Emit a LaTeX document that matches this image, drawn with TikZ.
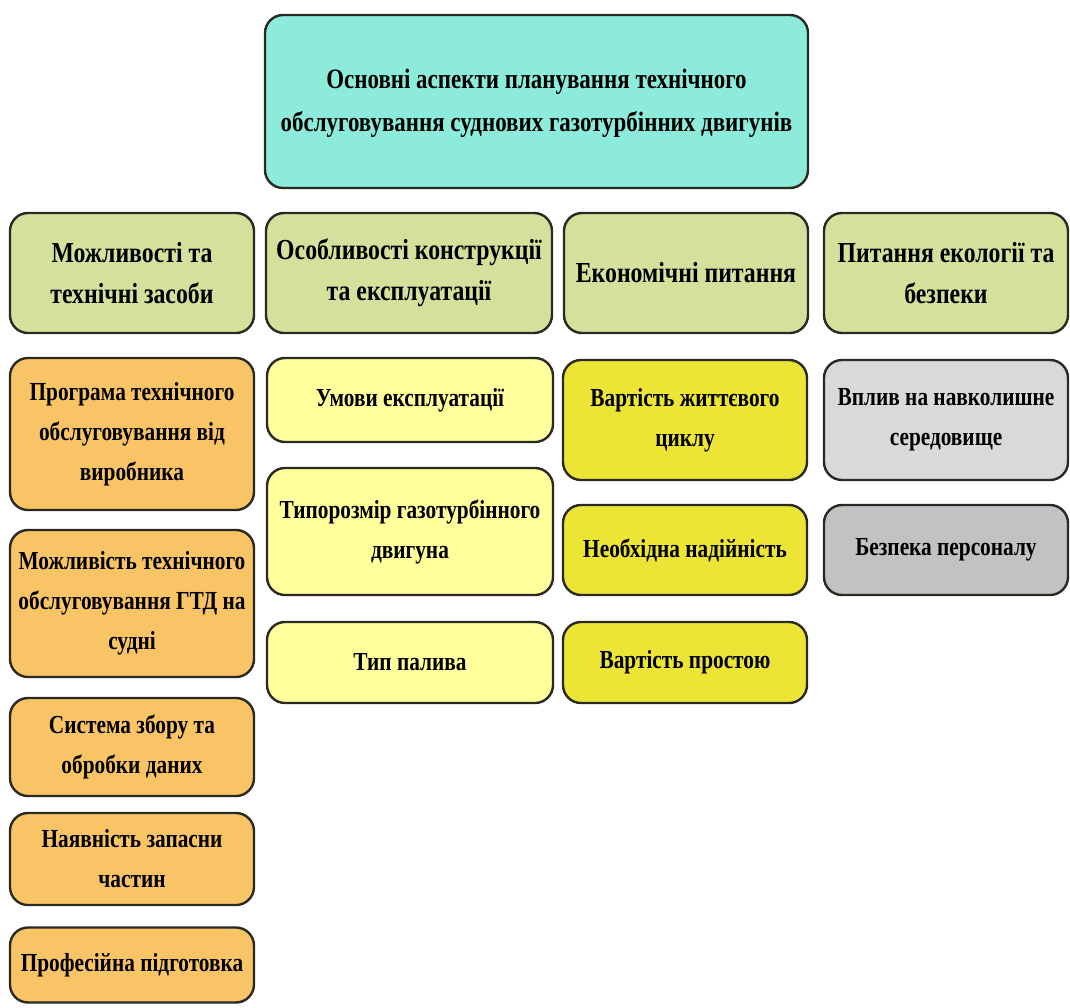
\documentclass[tikz,border=0pt]{standalone}
\usepackage{fontspec}
\setmainfont{Liberation Serif}
\newfontfamily\narrowserif[FakeStretch=0.82]{Liberation Serif}
\begin{document}
\definecolor{edge}{HTML}{2A2A22}
\definecolor{titlefill}{HTML}{8CEBDA}
\definecolor{headfill}{HTML}{D4E09C}
\definecolor{orangefill}{HTML}{F9C466}
\definecolor{paleyellow}{HTML}{FFFF9C}
\definecolor{brightyellow}{HTML}{EDE536}
\definecolor{lightgrey}{HTML}{D9D9D9}
\definecolor{midgrey}{HTML}{C2C2C2}
\begin{tikzpicture}[x=1pt,y=-1pt,
  cell/.style={draw=edge, line width=2.4pt, rounded corners=18pt,
    align=center, inner sep=0pt,
    font=\narrowserif\bfseries\fontsize{29}{41}\selectfont},
  subfont/.style={font=\narrowserif\bfseries\fontsize{26}{40}\selectfont},
  headcell/.style={cell, fill=headfill, minimum width=244pt, minimum height=120pt},
  orangecell/.style={cell, subfont, fill=orangefill, minimum width=244pt},
  palecell/.style={cell, subfont, fill=paleyellow, minimum width=286pt},
  yellowcell/.style={cell, subfont, fill=brightyellow, minimum width=244pt},
  greycell/.style={cell, subfont, minimum width=244pt}]
\useasboundingbox (0,0) rectangle (1070,1007);

% title box; its two lines sit a little below the middle
\node[cell, fill=titlefill, minimum width=543pt, minimum height=173pt,
  font=\narrowserif\bfseries\fontsize{28}{43}\selectfont] (title) at (536.5,101.5)
  {\raisebox{-4pt}{\begin{tabular}{@{}c@{}}Основні аспекти планування технічного\\обслуговування суднових газотурбінних двигунів\end{tabular}}};

% column headers
\node[headcell] (h1) at (132,273) {Можливості та\\технічні засоби};
\node[headcell, minimum width=286pt] (h2) at (409,273) {Особливості конструкції\\та експлуатації};
\node[headcell] (h3) at (686,273) {Економічні питання};
\node[headcell] (h4) at (946,273) {Питання екології та\\безпеки};

% first column
\node[orangecell, minimum height=152pt] (a1) at (132,434) {Програма технічного\\обслуговування від\\виробника};
\node[orangecell, minimum height=147pt] (a2) at (132,603.5) {Можливість технічного\\обслуговування ГТД на\\судні};
\node[orangecell, minimum height=98pt] (a3) at (132,747) {Система збору та\\обробки даних};
\node[orangecell, minimum height=92pt] (a4) at (132,859) {Наявність запасни\\частин};
\node[orangecell, minimum height=75pt] (a5) at (132,965) {Професійна підготовка};

% second column
\node[palecell, minimum height=84pt] (b1) at (410,400) {Умови експлуатації};
\node[palecell, minimum height=127pt] (b2) at (410,531.5) {Типорозмір газотурбінного\\двигуна};
\node[palecell, minimum height=81pt] (b3) at (410,662.5) {Тип палива};

% third column
\node[yellowcell, minimum height=120pt] (c1) at (685,420) {Вартість життєвого\\циклу};
\node[yellowcell, minimum height=90pt] (c2) at (685,550) {Необхідна надійність};
\node[yellowcell, minimum height=81pt] (c3) at (685,662.5) {Вартість простою};

% fourth column
\node[greycell, fill=lightgrey, minimum height=120pt] (d1) at (946,420) {Вплив на навколишне\\середовище};
\node[greycell, fill=midgrey, minimum height=90pt] (d2) at (946,550) {Безпека персоналу};
\end{tikzpicture}
\end{document}
